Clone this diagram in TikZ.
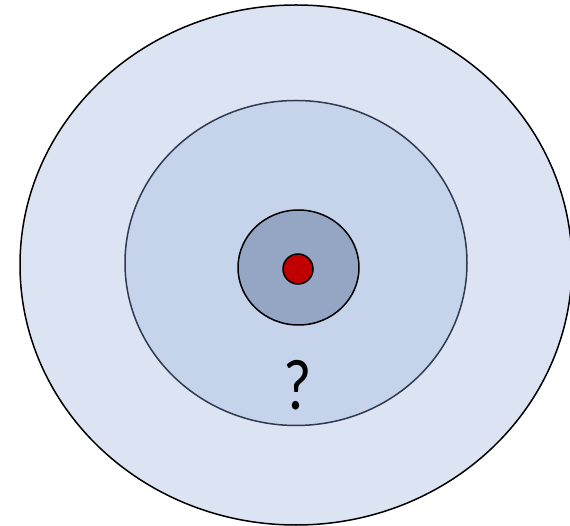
\documentclass[tikz,border=0pt]{standalone}
\usepackage{fontspec}
\setmainfont{Carlito}
\definecolor{outerfill}{HTML}{DCE3F3}
\definecolor{midfill}{HTML}{C5D3EB}
\definecolor{corefill}{HTML}{95A6C4}
\definecolor{midline}{HTML}{2F3A4F}
\definecolor{dotred}{HTML}{C00000}
\begin{document}
\begin{tikzpicture}[x=1pt,y=-1pt,
  ring/.style={line width=1.5pt}]
\useasboundingbox (0,0) rectangle (570,526);
\begin{scope}
\clip (0,0) rectangle (570,526);
\draw[ring,fill=outerfill] (296,265) ellipse [x radius=276, y radius=260];
\end{scope}
\draw[ring,draw=midline,fill=midfill] (296,263) ellipse [x radius=171, y radius=162.5];
\draw[ring,fill=corefill] (298.5,267.5) ellipse [x radius=60.5, y radius=57.5];
\draw[ring,fill=dotred] (298,269) ellipse [x radius=15, y radius=15];
\node[inner sep=0pt,xscale=0.85,font=\fontsize{72}{76}\selectfont] (q) at (298,385) {?};
\end{tikzpicture}
\end{document}
